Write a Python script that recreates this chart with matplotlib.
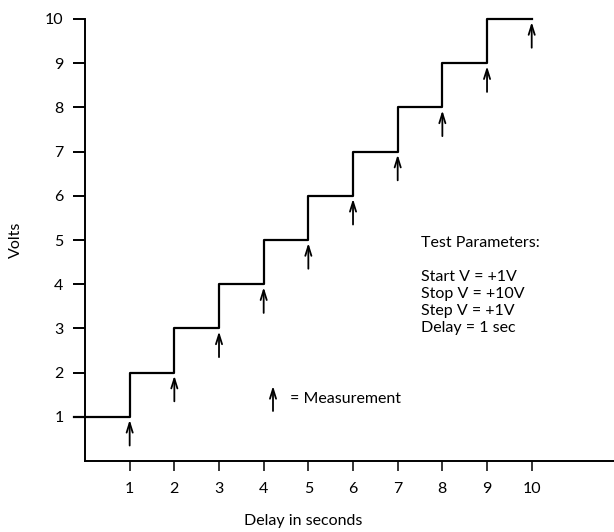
import matplotlib
matplotlib.use("Agg")
import matplotlib.pyplot as plt

plt.rcParams['font.family'] = ['Lato', 'DejaVu Sans']

# Data
step_times = [0, 1, 2, 3, 4, 5, 6, 7, 8, 9, 10]
step_volts = [1, 2, 3, 4, 5, 6, 7, 8, 9, 10, 10]
meas_times = [1, 2, 3, 4, 5, 6, 7, 8, 9, 10]
meas_volts = [1, 2, 3, 4, 5, 6, 7, 8, 9, 10]
x_ticks = [1, 2, 3, 4, 5, 6, 7, 8, 9, 10]
y_ticks = [1, 2, 3, 4, 5, 6, 7, 8, 9, 10]
params_text = "Test Parameters:\n\nStart V = +1V\nStop V = +10V\nStep V = +1V\nDelay = 1 sec"

FS = 11.5
ARROW = '->,head_length=0.7,head_width=0.22'

fig = plt.figure(figsize=(6.14, 5.32), dpi=100)
ax = fig.add_axes([85/614, 71/532, 529/614, 442/532])
ax.set_xlim(0, 529/44.67)
ax.set_ylim(0, 10)

for s in ['top', 'right']:
    ax.spines[s].set_visible(False)
for s in ['left', 'bottom']:
    ax.spines[s].set_linewidth(1.4)

# step line (start slightly left of the axis as in reference)
xs = [-0.25] + step_times[1:]
ax.step(xs, step_volts, where='post', color='black', lw=1.6, clip_on=False)

# measurement arrows
for t, v in zip(meas_times, meas_volts):
    ax.annotate('', xy=(t, v - 0.07), xytext=(t, v - 0.65),
                arrowprops=dict(arrowstyle=ARROW, color='black', lw=1.3,
                                shrinkA=0, shrinkB=0))

ax.set_xticks(x_ticks)
ax.set_yticks(y_ticks)
ax.tick_params(axis='y', direction='out', length=8.5, width=1.4, pad=7, labelsize=FS)
ax.tick_params(axis='x', direction='out', length=7, width=1.1, pad=8, labelsize=FS)

ax.set_ylabel('Volts', fontsize=FS, labelpad=16)
fig.text(303/614, 1 - 521/532, 'Delay in seconds', ha='center', va='center', fontsize=FS)

fig.text(421/614, 1 - 236/532, params_text, ha='left', va='top', fontsize=FS, linespacing=1.27)

# legend arrow
ax.annotate('', xy=(273/614, 1 - 386/532), xytext=(273/614, 1 - 411/532),
            xycoords='figure fraction', textcoords='figure fraction',
            arrowprops=dict(arrowstyle=ARROW, color='black', lw=1.3,
                            shrinkA=0, shrinkB=0), annotation_clip=False)
fig.text(290/614, 1 - 399/532, '= Measurement', ha='left', va='center', fontsize=FS)

fig.savefig('out.png', dpi=100)
